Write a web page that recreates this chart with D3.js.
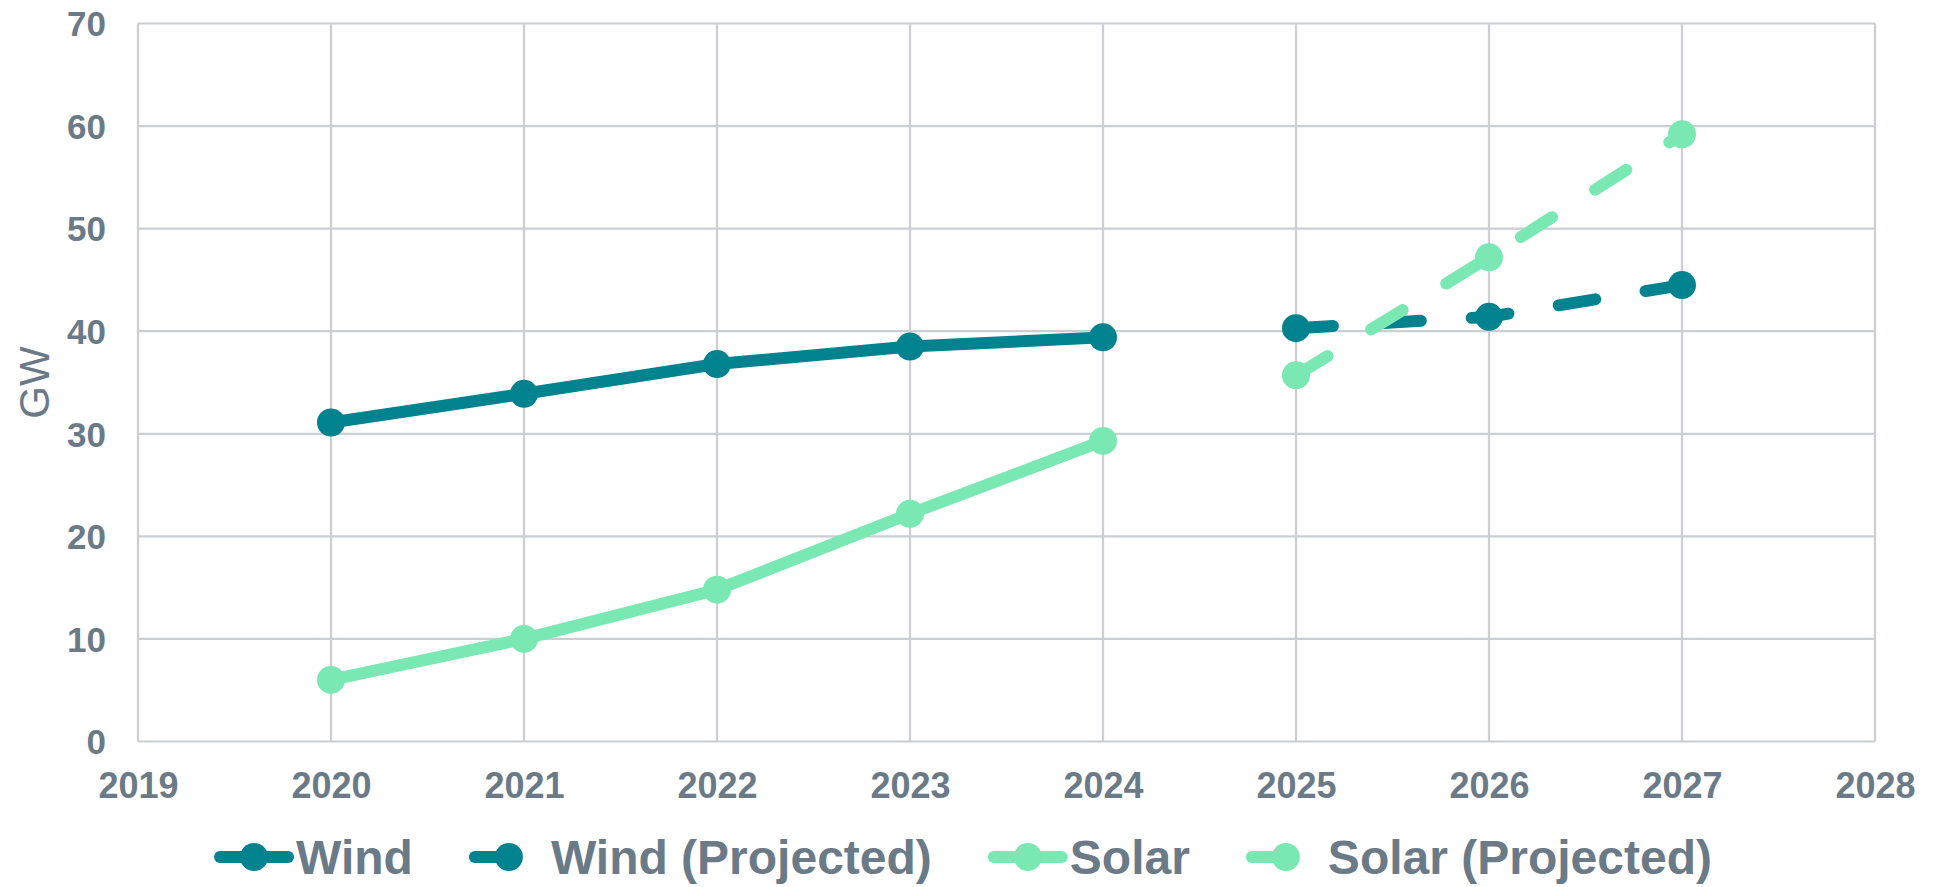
<!DOCTYPE html>
<html>
<head>
<meta charset="utf-8">
<script src="https://cdn.jsdelivr.net/npm/d3@7"></script>
<style>
  html, body { margin: 0; padding: 0; background: #ffffff; }
  svg { display: block; }
  text { font-family: "Liberation Sans", Arial, Helvetica, sans-serif; }
</style>
</head>
<body>
<svg id="chart" width="1934" height="887"></svg>
<script>
// Installed capacity (GW), actual and projected
const xTickYears = [2019, 2020, 2021, 2022, 2023, 2024, 2025, 2026, 2027, 2028];
const yTickValues = [0, 10, 20, 30, 40, 50, 60, 70];

const windYears = [2020, 2021, 2022, 2023, 2024];
const windValues = [31.1, 33.9, 36.8, 38.5, 39.4];

const windProjYears = [2025, 2026, 2027];
const windProjValues = [40.3, 41.4, 44.5];

const solarYears = [2020, 2021, 2022, 2023, 2024];
const solarValues = [6.0, 10.0, 14.8, 22.2, 29.3];

const solarProjYears = [2025, 2026, 2027];
const solarProjValues = [35.7, 47.2, 59.2];

const seriesNames = ["Wind", "Wind (Projected)", "Solar", "Solar (Projected)"];

const WIND = "#00828f";
const SOLAR = "#79e8b2";
const TEXT = "#6b7a87";
const GRID = "#cbced2";

const series = [
  { name: seriesNames[0], years: windYears, values: windValues, color: WIND, dashed: false },
  { name: seriesNames[1], years: windProjYears, values: windProjValues, color: WIND, dashed: true },
  { name: seriesNames[2], years: solarYears, values: solarValues, color: SOLAR, dashed: false },
  { name: seriesNames[3], years: solarProjYears, values: solarProjValues, color: SOLAR, dashed: true }
];

const svg = d3.select("#chart");
const plot = { left: 138, right: 1875, top: 23.5, bottom: 741.5 };

const x = d3.scaleLinear().domain([2019, 2028]).range([plot.left, plot.right]);
const y = d3.scaleLinear().domain([0, 70]).range([plot.bottom, plot.top]);

const LINE_W = 12;
const MARKER_R = 14;
const DASH = "37,51";

// Gridlines
const grid = svg.append("g");
grid.selectAll("line.h").data(yTickValues).join("line")
  .attr("x1", plot.left).attr("x2", plot.right)
  .attr("y1", d => y(d)).attr("y2", d => y(d))
  .attr("stroke", GRID).attr("stroke-width", 2.2);
grid.selectAll("line.v").data(xTickYears).join("line")
  .attr("y1", plot.top).attr("y2", plot.bottom)
  .attr("x1", d => x(d)).attr("x2", d => x(d))
  .attr("stroke", GRID).attr("stroke-width", 2.2);

// Axes (labels only; the grid carries the lines)
const xAxis = svg.append("g")
  .attr("transform", `translate(0,${plot.bottom})`)
  .call(d3.axisBottom(x).tickValues(xTickYears).tickFormat(d3.format("d")).tickSize(0).tickPadding(0));
xAxis.select(".domain").remove();
xAxis.selectAll("text")
  .attr("y", 56).attr("dy", 0)
  .attr("fill", TEXT).attr("font-size", 36).attr("font-weight", "bold")
  .style("font-family", "'Liberation Sans', Arial, sans-serif");

const yAxis = svg.append("g")
  .attr("transform", `translate(${plot.left},0)`)
  .call(d3.axisLeft(y).tickValues(yTickValues).tickSize(0).tickPadding(0));
yAxis.select(".domain").remove();
yAxis.selectAll("text")
  .attr("x", -32).attr("dy", "0.35em")
  .attr("fill", TEXT).attr("font-size", 35).attr("font-weight", "bold")
  .style("font-family", "'Liberation Sans', Arial, sans-serif");

// Axis title
svg.append("text")
  .attr("transform", `translate(49,${(plot.top + plot.bottom) / 2}) rotate(-90)`)
  .attr("text-anchor", "middle")
  .attr("fill", TEXT).attr("font-size", 42)
  .text("GW");

// Series
const line = d3.line().x(d => x(d[0])).y(d => y(d[1]));
series.forEach(s => {
  const pts = s.years.map((yr, i) => [yr, s.values[i]]);
  const g = svg.append("g");
  g.append("path")
    .attr("d", line(pts))
    .attr("fill", "none")
    .attr("stroke", s.color)
    .attr("stroke-width", LINE_W)
    .attr("stroke-linecap", "round")
    .attr("stroke-linejoin", "round")
    .attr("stroke-dasharray", s.dashed ? DASH : null);
  g.selectAll("circle").data(pts).join("circle")
    .attr("cx", d => x(d[0])).attr("cy", d => y(d[1]))
    .attr("r", MARKER_R)
    .attr("fill", s.color);
});

// Legend
const legend = svg.append("g");
const SYM_W = 80, TEXT_GAP = 82, ITEM_GAP = 56, LEG_Y = 857;
let cursor = 0;
series.forEach(s => {
  const item = legend.append("g").attr("transform", `translate(${cursor},0)`);
  item.append("line")
    .attr("x1", 6).attr("x2", SYM_W - 6)
    .attr("y1", LEG_Y).attr("y2", LEG_Y)
    .attr("stroke", s.color).attr("stroke-width", 12)
    .attr("stroke-linecap", "round")
    .attr("stroke-dasharray", s.dashed ? DASH : null);
  item.append("circle")
    .attr("cx", 40).attr("cy", LEG_Y).attr("r", MARKER_R)
    .attr("fill", s.color);
  const t = item.append("text")
    .attr("x", TEXT_GAP).attr("y", LEG_Y).attr("dy", "0.36em")
    .attr("fill", TEXT).attr("font-size", 48).attr("font-weight", "bold")
    .text(s.name);
  cursor += TEXT_GAP + t.node().getComputedTextLength() + ITEM_GAP;
});
const legendWidth = cursor - ITEM_GAP;
legend.attr("transform", `translate(${963 - legendWidth / 2},0)`);
</script>
</body>
</html>
